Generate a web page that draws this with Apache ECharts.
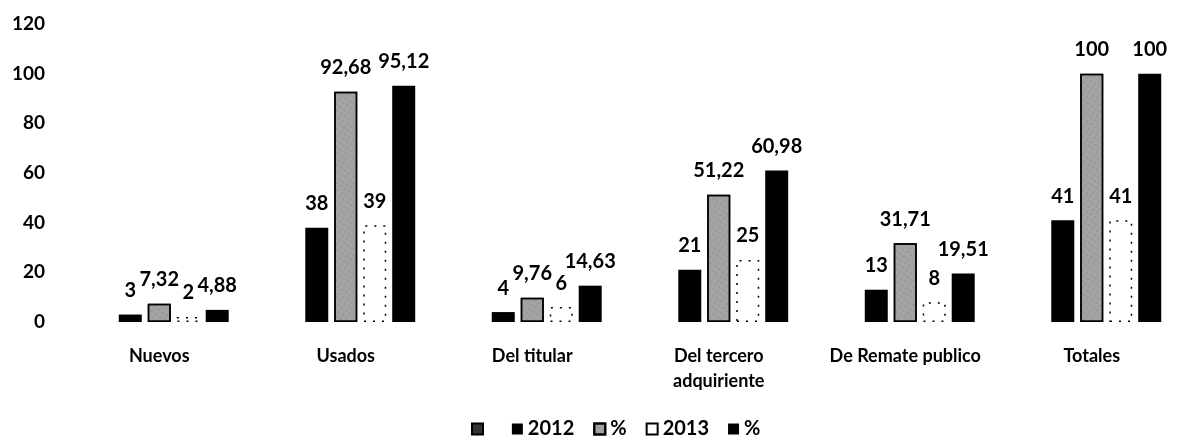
<!DOCTYPE html>
<html>
<head>
<meta charset="utf-8">
<script src="https://cdn.jsdelivr.net/npm/echarts@6/dist/echarts.min.js"></script>
<style>html,body{margin:0;padding:0;background:#fff}#c{width:1185px;height:445px}</style>
</head>
<body>
<div id="c"></div>
<script>
const categories = ['Nuevos', 'Usados', 'Del titular', 'Del tercero\nadquiriente', 'De Remate publico', 'Totales'];
const blankSeries = ['-', '-', '-', '-', '-', '-'];
const values2012 = [3, 38, 4, 21, 13, 41];
const pct2012 = [7.32, 92.68, 9.76, 51.22, 31.71, 100];
const values2013 = [2, 39, 6, 25, 8, 41];
const pct2013 = [4.88, 95.12, 14.63, 60.98, 19.51, 100];
const yTicks = { min: 0, max: 120, interval: 20 };

const FONT = 'Lato';
const fmt = p => String(p.value).replace('.', ',');
const lbl = {
  show: true, position: 'top', distance: 14, formatter: fmt,
  fontFamily: FONT, fontWeight: 'bold', fontSize: 20, color: '#000'
};

const chart = echarts.init(document.getElementById('c'), null, { renderer: 'canvas' });
chart.setOption({
  animation: false,
  backgroundColor: '#fff',
  grid: { left: 66, top: 24, bottom: 123, width: 1137, containLabel: false },
  legend: {
    bottom: 1, left: 466,
    itemWidth: 11, itemHeight: 11, itemGap: 19,
    icon: 'rect',
    textStyle: { fontFamily: FONT, fontWeight: 'bold', fontSize: 20, color: '#000' }
  },
  xAxis: {
    type: 'category', data: categories,
    axisLine: { show: false }, axisTick: { show: false },
    axisLabel: { interval: 0, margin: 22, fontFamily: FONT, fontWeight: 'bold', fontSize: 18, color: '#000', lineHeight: 25 }
  },
  yAxis: {
    type: 'value', min: yTicks.min, max: yTicks.max, interval: yTicks.interval,
    splitLine: { show: false }, axisLine: { show: false }, axisTick: { show: false },
    axisLabel: { margin: 21, fontFamily: FONT, fontWeight: 'bold', fontSize: 19, color: '#000' }
  },
  series: [
    { name: ' ', type: 'bar', data: blankSeries, barWidth: 23, barGap: '26%',
      itemStyle: { color: '#333', borderColor: '#000', borderWidth: 1, borderType: 'dotted' } },
    { name: '2012', type: 'bar', data: values2012, barWidth: 23, barGap: '26%',
      itemStyle: { color: '#000' }, label: lbl },
    { name: '%', type: 'bar', data: pct2012, barWidth: 23, barGap: '26%',
      itemStyle: { color: '#a3a3a3', borderColor: '#000', borderWidth: 1.5,
        decal: { symbol: 'circle', symbolSize: 0.5, dashArrayX: [2, 3], dashArrayY: [2, 3], color: 'rgba(40,40,40,0.55)', rotation: 0.6 } },
      label: lbl },
    { name: '2013', type: 'bar', data: values2013, barWidth: 23, barGap: '26%',
      itemStyle: { color: '#fff', borderColor: '#000', borderWidth: 1.5, borderType: [2, 7] },
      label: lbl },
    { name: '%\u200b', type: 'bar', data: pct2013, barWidth: 23, barGap: '26%',
      itemStyle: { color: '#000' }, label: lbl }
  ]
});
</script>
</body>
</html>
